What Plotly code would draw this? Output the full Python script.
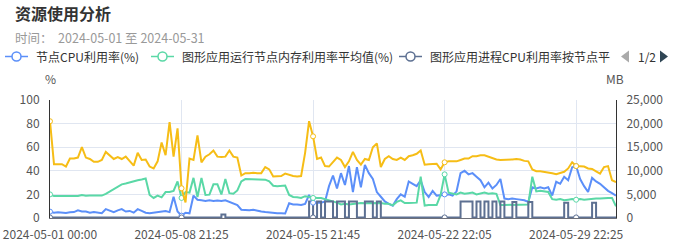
import plotly.graph_objects as go

# ---- data -------------------------------------------------------------
tick_labels = ["2024-05-01 00:00", "2024-05-08 21:25", "2024-05-15 21:45",
               "2024-05-22 22:05", "2024-05-29 22:25"]
tick_step = 33  # samples between labelled categories

node_cpu = [5.4, 4.5, 4.8, 4.5, 4.2, 4.8, 5, 6.5, 5.5, 5.5, 4.5, 5, 4.5, 4,
            7.5, 6, 5, 6.5, 7.5, 5.5, 6, 4.5, 7.5, 6, 4.5, 4, 4.5, 4.5, 5.5, 6,
            5, 18, 5.5, 2, 4.5, 4, 19, 15.5, 15, 14.5, 15, 14.5, 14.8, 14.5, 15,
            13.5, 12.5, 11, 7, 6.5, 6.5, 7, 6, 5.5, 5, 4.5, 4.2, 4, 4, 3.8,
            12.5, 11.5, 11.5, 11, 12, 19.5, 13, 13, 13, 14, 27, 36, 25, 38, 28,
            44, 22, 43, 26, 45, 38, 33, 22, 18, 14, 12, 10.5, 16, 20, 18, 31,
            29, 27, 32, 22, 17.8, 23, 19, 19.5, 20, 20, 19, 22.6, 38, 40, 37,
            38, 35, 32, 26, 30, 25, 28, 33, 16.5, 16, 16.5, 16, 15.5, 15, 13.6,
            26, 25, 26, 25, 26, 19, 30.7, 29, 35, 32, 43, 44, 33, 27, 22, 34,
            31, 29, 26, 23, 21, 19]

node_mem = [20, 18.6, 18.6, 18.6, 18.8, 18.6, 18.6, 18.6, 19.5, 18.8, 19, 19,
            19, 19, 20.5, 22.5, 25, 27, 28.5, 29.2, 30.3, 31, 32, 32.7, 33.5,
            19.5, 17, 19, 17.5, 22, 22, 23, 31, 17, 22, 21.5, 34, 17.8, 34,
            19.5, 19.8, 28.5, 28.5, 20, 33, 21, 20.5, 23.4, 31, 33, 33, 33, 33,
            33, 32.5, 31, 27.3, 27, 27, 27.5, 19.5, 17.8, 17.5, 17, 18.5, 18,
            17, 17, 17, 16, 15, 14.5, 13, 11.5, 12, 11.5, 12, 12, 12.7, 12.5,
            12.5, 12.7, 12.7, 12.7, 12, 12, 10.7, 13.6, 15, 12.7, 12.7, 12.7,
            13, 35, 10.5, 11, 11, 11, 19.5, 37, 21.5, 21, 20, 21.5, 20.5, 21,
            21.5, 20, 21, 21.5, 20.5, 21, 20.5, 11, 11, 11, 11, 11, 11, 11,
            11.5, 35, 22.5, 23, 22.5, 22, 16, 15.5, 16, 15, 15.5, 16, 15.5, 16,
            15.5, 16, 16, 16.5, 16.5, 17, 17, 17, 10]

proc_cpu = ([0.5] * 43 + [3] + [0.5] * 21 +
            [14, 0.5, 14, 0.5, 14, 14, 0.5, 14, 14, 0.5, 14, 14, 0.5, 0.5,
             14, 14, 0.5, 14, 0.5] +
            [0.5] * 19 +
            [14, 14, 14, 0.5, 14, 0.5, 14, 0.5, 14, 0.5, 14, 0.5,
             0.5, 13.5, 0.5, 0.5, 0.5, 13.5, 0.5, 0.5, 0.5, 0.5, 0.5, 0.5, 0.5,
             0.5, 13, 0.5, 0.5, 0.5, 0.5, 0.5, 0.5, 13, 0.5, 0.5, 0.5, 0.5,
             0.5, 0.5])

mem_mb = [20500, 11400, 11400, 11400, 10900, 12600, 12600, 12800, 15000, 12800,
          12500, 11900, 11900, 12300, 14000, 13300, 12500, 12900, 12500, 13000,
          12000, 11100, 13800, 12300, 12400, 10900, 10500, 12000, 16000, 13300,
          20300, 13000, 19000, 6300, 3300, 12600, 12300, 17500, 11800, 13000,
          13500, 14300, 13000, 12900, 13000, 14300, 13000, 12800, 9000, 9500,
          9500, 9600, 9500, 9500, 10800, 10300, 8800, 8800, 8900, 9400, 9100,
          8900, 8800, 8900, 13800, 20500, 17300, 12500, 12800, 11000, 10900,
          11900, 12800, 12300, 10800, 12000, 14000, 12300, 11300, 12500, 12300,
          15000, 15800, 10800, 12500, 13100, 12500, 12300, 12800, 12300, 13100,
          13300, 13600, 14300, 11300, 11400, 11400, 11500, 10300, 11800, 12000,
          12000, 12000, 12300, 12600, 12600, 13100, 13100, 13300, 13300, 13000,
          12800, 12400, 12300, 12300, 12400, 12400, 12500, 12400, 12100, 12000,
          10300, 9900, 9900, 9800, 9600, 9500, 9300, 9500, 9800, 10500, 11800,
          11000, 11000, 10900, 10500, 10400, 9900, 9400, 10800, 11000, 8000,
          7600]

# name, values, colour, y axis, line shape
series = [
    ("节点CPU利用率(%)", node_cpu, "#5B8FF9", "y", "linear"),
    ("图形应用运行节点内存利用率平均值(%)", node_mem, "#5AD8A6", "y", "linear"),
    ("图形应用进程CPU利用率按节点平均值(%)", proc_cpu, "#5D7092", "y", "hv"),
    ("图形应用运行节点内存使用量(MB)", mem_mb, "#F6BD16", "y2", "linear"),
]

# ---- geometry helpers (pixel -> paper coordinates) -------------------
W, H = 675, 249
L, R, T, B = 50, 59, 100, 31
PW, PH = W - L - R, H - T - B


def px(x):
    return (x - L) / PW


def py(y):
    return (H - B - y) / PH


FONT = "Noto Sans CJK SC, Microsoft YaHei, sans-serif"
AXIS_TXT = "#555"

fig = go.Figure()
n = len(node_cpu)
xs = list(range(n))
tick_idx = [i * tick_step for i in range(len(tick_labels))]

for name, vals, color, yax, shape in series:
    fig.add_trace(go.Scatter(
        x=xs, y=vals, name=name, mode="lines", yaxis=yax,
        line=dict(color=color, width=2, shape=shape), hoverinfo="skip"))
for name, vals, color, yax, shape in series:
    fig.add_trace(go.Scatter(
        x=tick_idx, y=[vals[i] for i in tick_idx], mode="markers", yaxis=yax,
        marker=dict(size=5, color="white", line=dict(color=color, width=1)),
        hoverinfo="skip", showlegend=False))

# ---- hand-drawn legend (first page of a paged legend) ----------------
legend_y = 56.5
legend_items = [
    (5, series[0][0], series[0][2]),
    (151, series[1][0], series[1][2]),
    (399, "图形应用进程CPU利用率按节点平", series[2][2]),
]
shapes = []
annotations = []
for x0, label, color in legend_items:
    shapes.append(dict(type="line", xref="paper", yref="paper",
                       x0=px(x0), x1=px(x0 + 23), y0=py(legend_y), y1=py(legend_y),
                       line=dict(color=color, width=1.5), layer="above"))
    cx = x0 + 11.5
    shapes.append(dict(type="circle", xref="paper", yref="paper",
                       x0=px(cx - 4.5), x1=px(cx + 4.5),
                       y0=py(legend_y + 4.5), y1=py(legend_y - 4.5),
                       fillcolor="white", line=dict(color=color, width=1.5),
                       layer="above"))
    annotations.append(dict(text=label, xref="paper", yref="paper",
                            x=px(x0 + 29), y=py(legend_y), xanchor="left",
                            yanchor="middle", showarrow=False,
                            font=dict(size=12, color="#333", family=FONT)))


def tri(points, color):
    d = "M " + " L ".join(f"{px(a)},{py(b)}" for a, b in points) + " Z"
    return dict(type="path", xref="paper", yref="paper", path=d,
                fillcolor=color, line=dict(width=0), layer="above")


shapes.append(tri([(629, legend_y - 6), (629, legend_y + 6), (621, legend_y)], "#aaa"))
shapes.append(tri([(660, legend_y - 6), (660, legend_y + 6), (668, legend_y)], "#2f4554"))
annotations.append(dict(text="1/2", xref="paper", yref="paper", x=px(647),
                        y=py(legend_y), xanchor="center", yanchor="middle",
                        showarrow=False, font=dict(size=12, color="#333", family=FONT)))

# ---- titles and axis names -------------------------------------------
annotations += [
    dict(text="<b>资源使用分析</b>", xref="paper", yref="paper", x=px(13), y=py(13),
         xanchor="left", yanchor="middle", showarrow=False,
         font=dict(size=16, color="#333", family=FONT)),
    dict(text="时间：  2024-05-01 至 2024-05-31", xref="paper", yref="paper",
         x=px(13), y=py(37), xanchor="left", yanchor="middle", showarrow=False,
         font=dict(size=12.5, color="#999", family=FONT)),
    dict(text="%", xref="paper", yref="paper", x=px(50), y=py(78),
         xanchor="center", yanchor="middle", showarrow=False,
         font=dict(size=12, color=AXIS_TXT, family=FONT)),
    dict(text="MB", xref="paper", yref="paper", x=px(615), y=py(78),
         xanchor="center", yanchor="middle", showarrow=False,
         font=dict(size=12, color=AXIS_TXT, family=FONT)),
]

fig.update_layout(
    width=W, height=H, margin=dict(l=L, r=R, t=T, b=B, pad=0, autoexpand=False),
    paper_bgcolor="white", plot_bgcolor="white", showlegend=False,
    font=dict(family=FONT, size=12, color=AXIS_TXT),
    shapes=shapes, annotations=annotations,
    xaxis=dict(range=[0, n - 1], tickmode="array", tickvals=tick_idx,
               ticktext=tick_labels, showgrid=True, gridcolor="#E0E6F1",
               gridwidth=1, zeroline=False, showline=True, linecolor="#6E7079",
               ticks="", ticklabelstandoff=6, automargin=False,
               tickfont=dict(size=12, color=AXIS_TXT)),
    yaxis=dict(range=[0, 100], dtick=20, showgrid=True, gridcolor="#E0E6F1",
               zeroline=False, showline=True, linecolor="#333", linewidth=1,
               ticks="", ticklabelstandoff=7, automargin=False,
               tickfont=dict(size=12, color=AXIS_TXT)),
    yaxis2=dict(range=[0, 25000], dtick=5000, overlaying="y", side="right",
                showgrid=False, zeroline=False, showline=True, linecolor="#333",
                linewidth=1, tickformat=",d", ticks="", ticklabelstandoff=7,
                automargin=False, tickfont=dict(size=12, color=AXIS_TXT)),
)

fig.write_html("out.html")
